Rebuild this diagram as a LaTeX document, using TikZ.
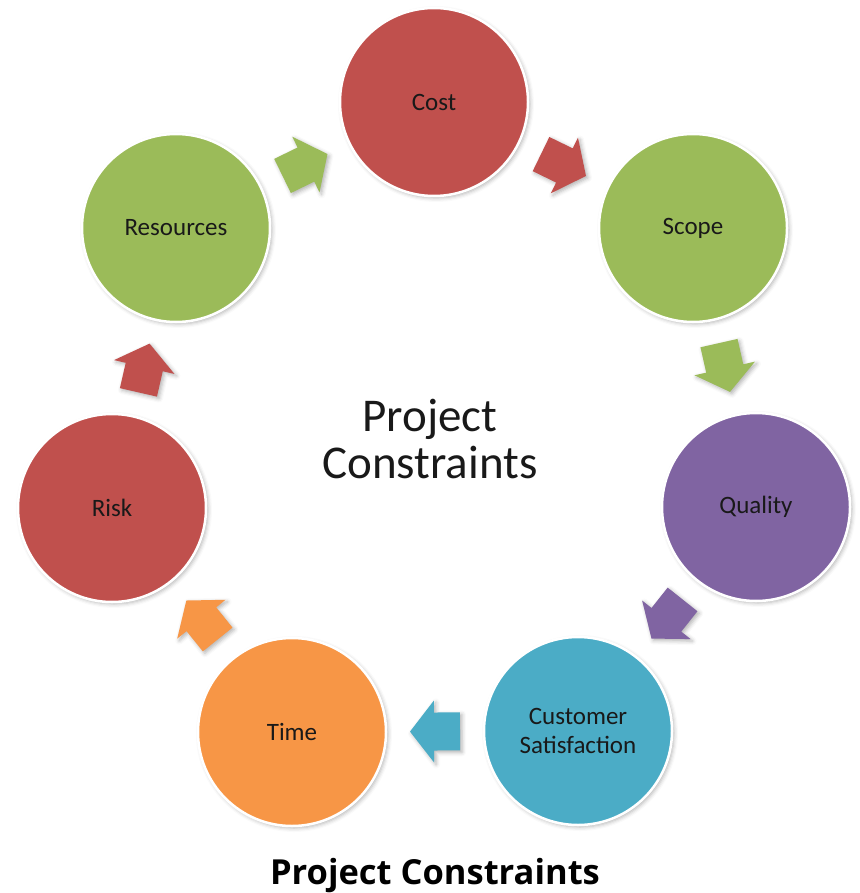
\documentclass[tikz,border=0pt]{standalone}
\usepackage{fontspec}
\setmainfont{Carlito}
\newfontfamily\capfont{Open Sans}
\usetikzlibrary{calc,shadows.blur}
\definecolor{cred}{HTML}{C0504D}
\definecolor{cgreen}{HTML}{9BBB59}
\definecolor{cpurple}{HTML}{8064A2}
\definecolor{caqua}{HTML}{4BACC6}
\definecolor{corange}{HTML}{F79646}
\tikzset{
  softshadow/.style={blur shadow={shadow xshift=2pt, shadow yshift=-2pt, shadow blur radius=4pt, shadow opacity=30}},
  bubble/.style={circle, draw=white, line width=2.5pt, minimum size=188pt, inner sep=0pt,
    font=\fontsize{25}{29}\selectfont, text=black!90, align=center, softshadow},
  pics/barrow/.style={code={
    \fill[#1, softshadow] (-25,-19) -- (1,-19) -- (1,-31) -- (25,0) -- (1,31) -- (1,19) -- (-25,19) -- cycle;}},
  titletext/.style={font=\fontsize{47}{47}\selectfont, align=center, text=black!90},
  captiontext/.style={font=\capfont\bfseries\fontsize{34.5}{40}\selectfont, text=black},
}
\newcommand\flowarrow[3]{\path let \p1=($(#2)-(#1)$), \n1={atan2(\y1,\x1)} in pic[rotate=\n1] at ($(#1)!.5!(#2)$) {barrow=#3};}
\begin{document}
\begin{tikzpicture}[x=1pt,y=-1pt]
\useasboundingbox (0,0) rectangle (859,893);
\node[bubble, fill=cred] (cost) at (434,102) {Cost};
\node[bubble, fill=cgreen] (scope) at (693,228) {Scope};
\node[bubble, fill=cpurple] (quality) at (756,507) {Quality};
\node[bubble, fill=caqua] (cust) at (578,731) {Customer\\Satisfaction};
\node[bubble, fill=corange] (time) at (292,732) {Time};
\node[bubble, fill=cred] (risk) at (112,508) {Risk};
\node[bubble, fill=cgreen] (res) at (176,228) {Resources};
\flowarrow{res}{cost}{cgreen}
\flowarrow{cost}{scope}{cred}
\flowarrow{scope}{quality}{cgreen}
\flowarrow{quality}{cust}{cpurple}
\flowarrow{cust}{time}{caqua}
\flowarrow{time}{risk}{corange}
\flowarrow{risk}{res}{cred}
\node[titletext] (title) at (430,439) {Project\\Constraints};
\node[captiontext, anchor=base] (caption) at (435,884) {Project Constraints};
\end{tikzpicture}
\end{document}
